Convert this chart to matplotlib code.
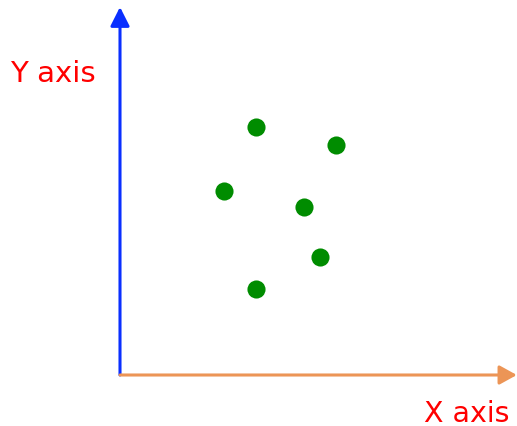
import numpy as np
import matplotlib
matplotlib.use("Agg")
import matplotlib.pyplot as plt

# scatter points (arbitrary units, origin at the axes corner)
xs = [8.5, 13.5, 6.5, 11.5, 12.5, 8.5]
ys = [15.5, 14.4, 11.5, 10.5, 7.4, 5.4]

x_label = "X axis"
y_label = "Y axis"

fig = plt.figure(figsize=(5.17, 4.27), dpi=100)
ax = fig.add_axes([0, 0, 1, 1])
ax.set_xlim(-7.5, 24.8125)
ax.set_ylim(-3.1875, 23.5)
ax.axis("off")

# y axis arrow
ax.annotate("", xy=(0, 23.0), xytext=(0, 0),
            arrowprops=dict(arrowstyle="-|>,head_length=11.5,head_width=5.8",
                            mutation_scale=1, color="#0a2fff", lw=2.2,
                            shrinkA=0, shrinkB=0))
# x axis arrow
ax.annotate("", xy=(24.8, 0), xytext=(0, 0),
            arrowprops=dict(arrowstyle="-|>,head_length=10.5,head_width=5.8",
                            mutation_scale=1, color="#ec9556", lw=2.2,
                            shrinkA=0, shrinkB=0))

ax.scatter(xs, ys, s=170, color="#008c00", zorder=3, linewidths=0)

ax.text(-6.875, 18.85, y_label, color="red", fontsize=21,
        ha="left", va="center", family="DejaVu Sans")
ax.text(24.375, -2.35, x_label, color="red", fontsize=20.5,
        ha="right", va="center", family="DejaVu Sans")

fig.savefig("out.png", dpi=100)
